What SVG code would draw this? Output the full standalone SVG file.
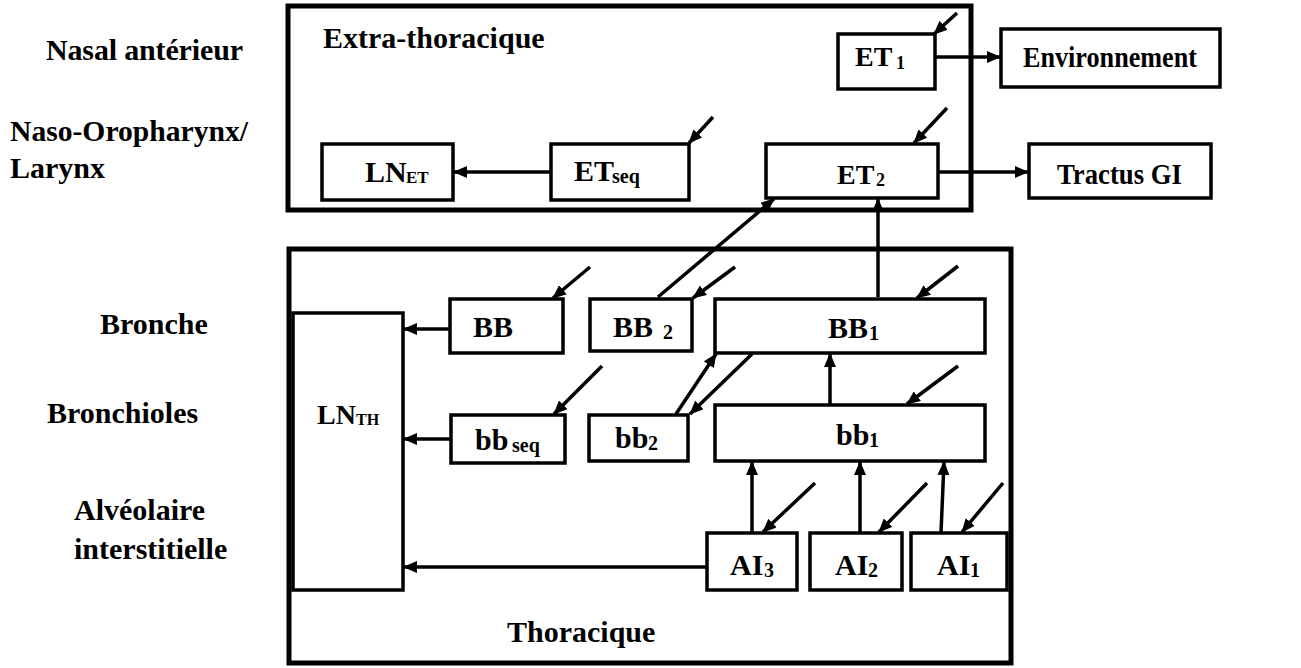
<svg xmlns="http://www.w3.org/2000/svg" width="1301" height="668" viewBox="0 0 1301 668">
<defs>
<marker id="ah" viewBox="0 0 14 12" refX="13" refY="6" markerWidth="14" markerHeight="12" orient="auto" markerUnits="userSpaceOnUse"><path d="M0,0 L14,6 L0,12 z" fill="#000"/></marker>
</defs>
<style>
text{font-family:"Liberation Serif","Times New Roman",serif;font-weight:bold;fill:#000}
.lbl{font-size:30px}
.nd{font-size:30px}
.et{font-size:28px}
.sub{font-size:20px}
.box{fill:#fff;stroke:#000;stroke-width:3.5}
.zone{fill:#fff;stroke:#000;stroke-width:5}
.c line{stroke:#000;stroke-width:3.5;marker-end:url(#ah)}
</style>
<rect width="1301" height="668" fill="#fff"/>
<g id="zone-extra"><rect class="zone" x="288" y="6" width="683" height="204"/><text class="lbl" x="323" y="48" font-size="29">Extra-thoracique</text></g>
<g id="zone-thor"><rect class="zone" x="289" y="249" width="722" height="414"/><text class="lbl" x="507" y="642" font-size="29">Thoracique</text></g>
<g id="labels">
<text class="lbl" x="46" y="60" textLength="197" lengthAdjust="spacing">Nasal antérieur</text>
<text class="lbl" x="10" y="141" textLength="238" lengthAdjust="spacingAndGlyphs">Naso-Oropharynx/</text>
<text class="lbl" x="10" y="178">Larynx</text>
<text class="lbl" x="100" y="334">Bronche</text>
<text class="lbl" x="47" y="423">Bronchioles</text>
<text class="lbl" x="74" y="520">Alvéolaire</text>
<text class="lbl" x="74" y="559">interstitielle</text>
</g>
<g id="ET1"><rect class="box" x="838" y="34" width="97" height="55"/><text class="et" y="66"><tspan x="855">ET</tspan><tspan x="896" font-size="18" dy="3">1</tspan></text></g>
<g id="Env"><rect class="box" x="1001" y="29" width="219" height="58"/><text class="nd" x="1023" y="67" font-size="29" textLength="174" lengthAdjust="spacingAndGlyphs">Environnement</text></g>
<g id="ET2"><rect class="box" x="766" y="144" width="172" height="54"/><text class="et" y="184"><tspan x="837">ET</tspan><tspan x="876" font-size="18" dy="2">2</tspan></text></g>
<g id="GI"><rect class="box" x="1029" y="144" width="182" height="54"/><text class="nd" x="1057" y="184" font-size="29" textLength="125" lengthAdjust="spacingAndGlyphs">Tractus  GI</text></g>
<g id="LNET"><rect class="box" x="322" y="144" width="131" height="56"/><text class="nd" y="182" font-size="29"><tspan x="365">LN</tspan><tspan x="406" font-size="17" dy="1">ET</tspan></text></g>
<g id="ETseq"><rect class="box" x="551" y="144" width="138" height="56"/><text class="nd" y="181" font-size="27"><tspan x="574">ET</tspan><tspan x="612" font-size="20" dy="2">seq</tspan></text></g>
<g id="BB"><rect class="box" x="450" y="299" width="113" height="54"/><text class="nd" x="473" y="337">BB</text></g>
<g id="BB2"><rect class="box" x="590" y="299" width="102" height="52"/><text class="nd" y="337"><tspan x="613">BB</tspan><tspan class="sub" x="663" font-size="19" dy="2">2</tspan></text></g>
<g id="BB1"><rect class="box" x="715" y="299" width="270" height="54"/><text class="nd" y="338"><tspan x="828">BB</tspan><tspan class="sub" x="869" dy="2">1</tspan></text></g>
<g id="LNTH"><rect class="box" x="293" y="313" width="110" height="277"/><text y="424" font-size="28"><tspan x="317">LN</tspan><tspan x="356" font-size="16" dy="1">TH</tspan></text></g>
<g id="bbseq"><rect class="box" x="451" y="415" width="114" height="48"/><text class="nd" y="450" font-size="29"><tspan x="475">bb</tspan><tspan class="sub" x="512" font-size="19" dy="2">seq</tspan></text></g>
<g id="bb2"><rect class="box" x="589" y="415" width="99" height="46"/><text class="nd" y="448" font-size="29"><tspan x="615">bb</tspan><tspan class="sub" x="648" dy="2">2</tspan></text></g>
<g id="bb1"><rect class="box" x="715" y="405" width="270" height="56"/><text class="nd" y="445" font-size="29"><tspan x="836">bb</tspan><tspan class="sub" x="869" dy="2">1</tspan></text></g>
<g id="AI3"><rect class="box" x="707" y="533" width="90" height="57"/><text class="nd" y="575"><tspan x="730">AI</tspan><tspan class="sub" x="764" dy="2">3</tspan></text></g>
<g id="AI2"><rect class="box" x="810" y="533" width="92" height="57"/><text class="nd" y="575"><tspan x="835">AI</tspan><tspan class="sub" x="868" dy="2">2</tspan></text></g>
<g id="AI1"><rect class="box" x="911" y="533" width="96" height="57"/><text class="nd" y="575"><tspan x="937">AI</tspan><tspan class="sub" x="970" dy="2">1</tspan></text></g>
<g id="connectors" class="c">
<line x1="550" y1="172" x2="454" y2="172"/>
<line x1="936" y1="57" x2="1000" y2="57"/>
<line x1="938" y1="172" x2="1028" y2="172"/>
<line x1="658" y1="297" x2="774" y2="199"/>
<line x1="878" y1="297" x2="878" y2="199"/>
<line x1="449" y1="329" x2="404" y2="329"/>
<line x1="450" y1="439" x2="404" y2="439"/>
<line x1="707" y1="567" x2="404" y2="567"/>
<line x1="830" y1="405" x2="830" y2="354"/>
<line x1="676" y1="414" x2="716" y2="354"/>
<line x1="752" y1="354" x2="690" y2="414"/>
<line x1="752" y1="533" x2="752" y2="462"/>
<line x1="860" y1="533" x2="860" y2="462"/>
<line x1="941" y1="533" x2="944" y2="462"/>
<line x1="957" y1="13" x2="934" y2="34"/>
<line x1="947" y1="108" x2="914" y2="143"/>
<line x1="713" y1="117" x2="689" y2="143"/>
<line x1="590" y1="267" x2="553" y2="298"/>
<line x1="735" y1="267" x2="693" y2="298"/>
<line x1="958" y1="266" x2="917" y2="298"/>
<line x1="602" y1="366" x2="554" y2="414"/>
<line x1="958" y1="366" x2="907" y2="404"/>
<line x1="815" y1="483" x2="763" y2="532"/>
<line x1="927" y1="483" x2="879" y2="532"/>
<line x1="1003" y1="483" x2="962" y2="532"/>
</g>
</svg>
